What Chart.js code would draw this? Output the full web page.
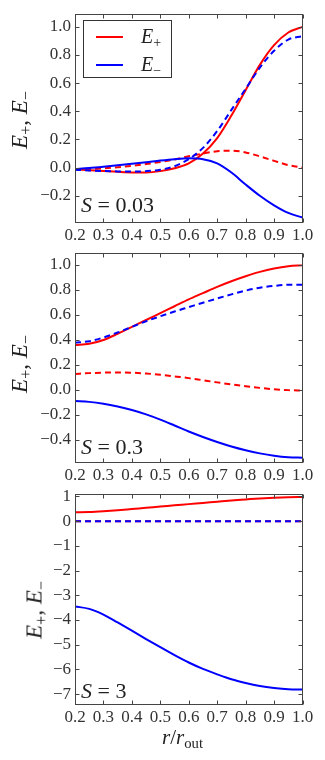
<!DOCTYPE html>
<html>
<head>
<meta charset="utf-8">
<script src="https://cdn.jsdelivr.net/npm/chart.js@4/dist/chart.umd.min.js"></script>
<style>
  html, body { margin:0; padding:0; background:#fff; }
  #wrap { position:relative; width:325px; height:760px; background:#fff; overflow:hidden; }
  canvas { position:absolute; left:0; }
  .tx { position:absolute; font-family:"Liberation Serif", "DejaVu Serif", serif; color:#222; white-space:nowrap; line-height:1; }
  .tx i { font-style:italic; }
  .tx sub { font-size:0.7em; vertical-align:-0.3em; line-height:0; }
  .ylab { font-size:23px; transform:translate(-50%,-50%) rotate(-90deg); }
  .slab { font-size:22px; }
  #legend { position:absolute; left:83px; top:20px; width:89px; height:58px; border:1px solid #333; background:#fff; box-sizing:border-box; }
  .ls { position:absolute; left:12px; width:27px; height:2px; }
  .lt { position:absolute; left:57px; font-size:20px; }
</style>
</head>
<body>
<div id="wrap">
  <canvas id="c1" width="325" height="245" style="top:0px"></canvas>
  <canvas id="c2" width="325" height="258" style="top:232px"></canvas>
  <canvas id="c3" width="325" height="285" style="top:475px"></canvas>

  <div class="tx ylab" style="left:19px; top:120px"><i>E</i><sub>+</sub>, <i>E</i><sub>−</sub></div>
  <div class="tx ylab" style="left:19px; top:364px"><i>E</i><sub>+</sub>, <i>E</i><sub>−</sub></div>
  <div class="tx ylab" style="left:34px; top:610px"><i>E</i><sub>+</sub>, <i>E</i><sub>−</sub></div>

  <div class="tx slab" style="left:81px; top:194px"><i>S</i> = 0.03</div>
  <div class="tx slab" style="left:81px; top:436px"><i>S</i> = 0.3</div>
  <div class="tx slab" style="left:81px; top:680px"><i>S</i> = 3</div>

  <div class="tx" style="left:162px; top:727px; font-size:21px"><i>r</i>/<i>r</i><sub>out</sub></div>

  <div id="legend">
    <div class="ls" style="top:15px; background:#ff0000"></div>
    <div class="tx lt" style="top:5px"><i>E</i><sub>+</sub></div>
    <div class="ls" style="top:43px; background:#0000ff"></div>
    <div class="tx lt" style="top:33px"><i>E</i><sub>−</sub></div>
  </div>
</div>
<script>
// ---- data ----
const rValues = [0.2,0.25,0.3,0.35,0.4,0.45,0.5,0.55,0.6,0.65,0.7,0.75,0.8,0.85,0.9,0.95,1.0];
const xTickValues = [0.2,0.3,0.4,0.5,0.6,0.7,0.8,0.9,1.0];

// S = 0.03
const s003_ePlusSolid  = [-0.012,-0.018,-0.024,-0.030,-0.034,-0.034,-0.025,-0.005,0.03,0.10,0.21,0.37,0.55,0.73,0.87,0.96,1.0];
const s003_ePlusDash   = [-0.012,-0.010,-0.005,0.003,0.013,0.025,0.040,0.058,0.080,0.100,0.116,0.120,0.108,0.080,0.048,0.018,0.0];
const s003_eMinusSolid = [-0.010,-0.003,0.006,0.016,0.027,0.038,0.050,0.060,0.066,0.060,0.030,-0.035,-0.120,-0.200,-0.268,-0.322,-0.355];
const s003_eMinusDash  = [-0.015,-0.020,-0.024,-0.027,-0.028,-0.025,-0.015,0.010,0.060,0.140,0.260,0.410,0.560,0.710,0.830,0.910,0.934];
const s003_yTicks = [-0.2,0.0,0.2,0.4,0.6,0.8,1.0];

// S = 0.3
const s03_ePlusSolid  = [0.36,0.37,0.40,0.45,0.505,0.56,0.615,0.67,0.725,0.775,0.825,0.87,0.91,0.945,0.972,0.99,0.997];
const s03_ePlusDash   = [0.128,0.135,0.139,0.140,0.138,0.132,0.122,0.109,0.095,0.078,0.061,0.045,0.030,0.017,0.006,-0.001,-0.004];
const s03_eMinusSolid = [-0.088,-0.095,-0.110,-0.132,-0.160,-0.195,-0.237,-0.284,-0.332,-0.376,-0.416,-0.452,-0.482,-0.507,-0.526,-0.538,-0.542];
const s03_eMinusDash  = [0.378,0.39,0.42,0.46,0.505,0.55,0.59,0.628,0.663,0.698,0.732,0.765,0.795,0.818,0.833,0.842,0.843];
const s03_yTicks = [-0.4,-0.2,0.0,0.2,0.4,0.6,0.8,1.0];

// S = 3
const s3_ePlusSolid  = [0.36,0.37,0.40,0.44,0.49,0.54,0.59,0.64,0.69,0.74,0.79,0.84,0.88,0.92,0.95,0.97,0.98];
const s3_ePlusDash   = [0,0,0,0,0,0,0,0,0,0,0,0,0,0,0,0,0];
const s3_eMinusSolid = [-3.45,-3.55,-3.78,-4.10,-4.43,-4.77,-5.10,-5.42,-5.72,-5.98,-6.20,-6.40,-6.55,-6.67,-6.75,-6.80,-6.81];
const s3_eMinusDash  = [0,0,0,0,0,0,0,0,0,0,0,0,0,0,0,0,0];
const s3_yTicks = [-7,-6,-5,-4,-3,-2,-1,0,1];

// ---- helpers ----
const FONT = '"Liberation Serif", "DejaVu Serif", serif';
const RED = '#ff0000', BLUE = '#0000ff', FRAME = '#444444';

function pts(ys){ return rValues.map((x,i)=>({x:x, y:ys[i]})); }
function ds(label, ys, color, dashed){
  return { label, data: pts(ys), borderColor: color, backgroundColor: color,
    borderWidth: 2, borderDash: dashed ? [6,4] : [], pointRadius: 0,
    cubicInterpolationMode: 'monotone', fill: false };
}
function minusFmt(v, dec){
  const s = dec ? Math.abs(v).toFixed(dec) : String(Math.abs(Math.round(v)));
  return (v < -1e-9 ? '\u2212' : '') + s;
}

const framePlugin = {
  id: 'frame',
  afterDraw(chart){
    const {ctx, chartArea:a, scales:{x, y}} = chart;
    const L = Math.round(a.left)+0.5, R = Math.round(a.right)-0.5;
    const T = Math.round(a.top)+0.5, B = Math.round(a.bottom)-0.5;
    ctx.save();
    ctx.strokeStyle = FRAME; ctx.lineWidth = 1; ctx.setLineDash([]);
    ctx.strokeRect(L, T, R-L, B-T);
    ctx.beginPath();
    x.ticks.forEach(t => {
      const p = Math.round(x.getPixelForValue(t.value))+0.5;
      ctx.moveTo(p, B); ctx.lineTo(p, B-4);
      ctx.moveTo(p, T); ctx.lineTo(p, T+4);
    });
    y.ticks.forEach(t => {
      const p = Math.round(y.getPixelForValue(t.value))+0.5;
      ctx.moveTo(L, p); ctx.lineTo(L+4, p);
      ctx.moveTo(R, p); ctx.lineTo(R-4, p);
    });
    ctx.stroke();
    ctx.restore();
  }
};

function makePanel(id, series, yMin, yMax, yTicks, yDec, padTop, xHeight){
  new Chart(document.getElementById(id), {
    type: 'line',
    data: { datasets: [
      ds('E- dashed', series[3], BLUE, true),
      ds('E- solid',  series[2], BLUE, false),
      ds('E+ dashed', series[1], RED, true),
      ds('E+ solid',  series[0], RED, false)
    ]},
    options: {
      responsive: false, animation: false, devicePixelRatio: 1,
      layout: { padding: { top: padTop, right: 22.5, left: 0, bottom: 0 } },
      plugins: { legend: { display: false }, tooltip: { enabled: false } },
      events: [],
      scales: {
        x: {
          type: 'linear', min: 0.2, max: 1.0,
          grid: { display: false, drawTicks: false },
          border: { display: false },
          afterBuildTicks: s => { s.ticks = xTickValues.map(v => ({value: v})); },
          afterFit: s => { s.height = xHeight; },
          ticks: { autoSkip: false, maxRotation: 0, padding: 3, color: '#333',
                   font: { family: FONT, size: 17 },
                   callback: v => Number(v).toFixed(1) }
        },
        y: {
          type: 'linear', min: yMin, max: yMax,
          grid: { display: false, drawTicks: false },
          border: { display: false },
          afterBuildTicks: s => { s.ticks = yTicks.map(v => ({value: v})); },
          afterFit: s => { s.width = 75; },
          ticks: { autoSkip: false, padding: 4, color: '#333',
                   font: { family: FONT, size: 17 },
                   callback: v => minusFmt(v, yDec) }
        }
      }
    },
    plugins: [framePlugin]
  });
}

makePanel('c1', [s003_ePlusSolid, s003_ePlusDash, s003_eMinusSolid, s003_eMinusDash],
          -0.39, 1.09, s003_yTicks, 1, 12.5, 22.5);
makePanel('c2', [s03_ePlusSolid, s03_ePlusDash, s03_eMinusSolid, s03_eMinusDash],
          -0.58, 1.10, s03_yTicks, 1, 20.5, 27.5);
makePanel('c3', [s3_ePlusSolid, s3_ePlusDash, s3_eMinusSolid, s3_eMinusDash],
          -7.42, 1.12, s3_yTicks, 0, 18.5, 55.5);
</script>
</body>
</html>
